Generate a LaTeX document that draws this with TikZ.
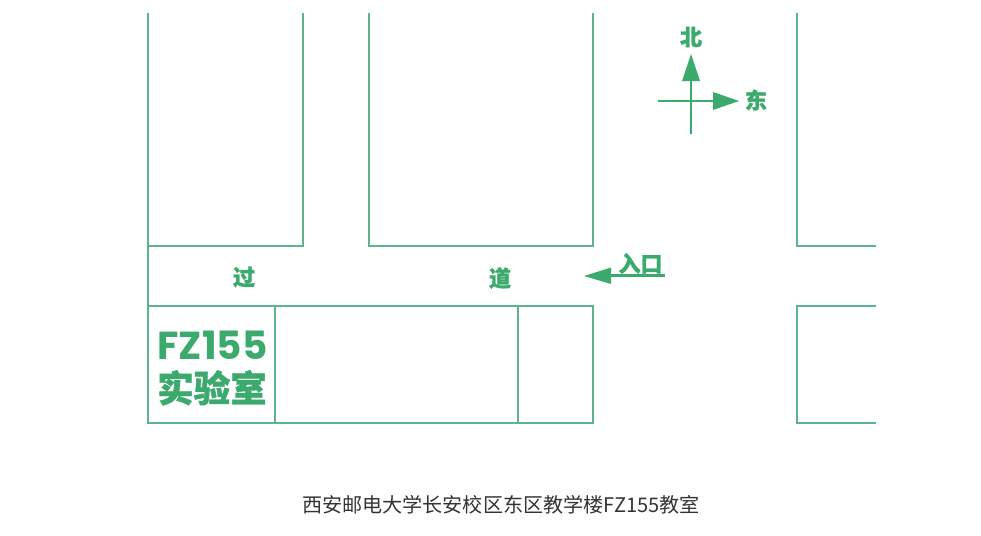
\documentclass[tikz,border=0pt]{standalone}
\usepackage{fontspec}
\newfontfamily\cjk{Noto Sans CJK SC}
\newfontfamily\cjkh{Noto Sans CJK SC}[BoldFeatures={FakeBold=1.2}]
\newfontfamily\latb{Poppins}
\definecolor{wall}{HTML}{5DB48C}
\definecolor{mark}{HTML}{3BAA6C}
\definecolor{cap}{HTML}{333333}
\tikzset{
  wallline/.style={draw=wall,line width=1.3pt,line cap=butt,line join=miter},
  markline/.style={draw=mark,line width=2.7pt},
  head/.style={fill=mark,draw=none},
  lab/.style={text=mark,inner sep=0pt,font=\cjkh\bfseries\fontsize{22}{22}\selectfont}
}
\begin{document}
\begin{tikzpicture}[x=1pt,y=-1pt]
\useasboundingbox (0,0) rectangle (981,535);
% building blocks
\draw[wallline] (148,13) -- (148,246) -- (303,246) -- (303,13);
\draw[wallline] (369,13) -- (369,246) -- (593,246) -- (593,13);
\draw[wallline] (797,13) -- (797,246) -- (876,246);
\draw[wallline] (148,246) -- (148,423) -- (593,423) -- (593,306) -- (148,306);
\draw[wallline] (275,306) -- (275,423);
\draw[wallline] (518,306) -- (518,423);
\draw[wallline] (876,306) -- (797,306) -- (797,423) -- (876,423);
% compass
\coordinate (ntip) at (691,54);
\coordinate (etip) at (739,101);
\draw[markline] (691,134) -- (691,78);
\draw[markline] (658,101) -- (713,101);
\fill[head] (ntip) -- (700,81) -- (682,81) -- cycle;
\fill[head] (etip) -- (713,92) -- (713,110) -- cycle;
\node[lab] (north) at (691,37) {北};
\node[lab] (east) at (756,100) {东};
% road labels
\node[lab] (guo) at (244,277) {过};
\node[lab] (dao) at (500,278) {道};
% entrance
\coordinate (itip) at (584,276);
\draw[markline] (665,275.5) -- (610,275.5);
\fill[head] (itip) -- (611,267.5) -- (611,284) -- cycle;
\node[lab,anchor=south] (entry) at (640.5,274) {入口};
% room label
\node[text=mark,inner sep=0pt,anchor=base,text height=26pt,text depth=0pt,font=\latb\bfseries\fontsize{39}{39}\selectfont] (fz) at (212.5,359.5) {FZ155};
\node[text=mark,inner sep=0pt,anchor=base,text height=30pt,text depth=0pt,font=\cjkh\bfseries\fontsize{36.5}{36.5}\selectfont] (lab) at (212,402) {实验室};
% caption
\node[text=cap,inner sep=0pt,font=\cjk\fontsize{20.1}{20.1}\selectfont] (caption) at (501,505) {西安邮电大学长安校区东区教学楼FZ155教室};
\end{tikzpicture}
\end{document}
